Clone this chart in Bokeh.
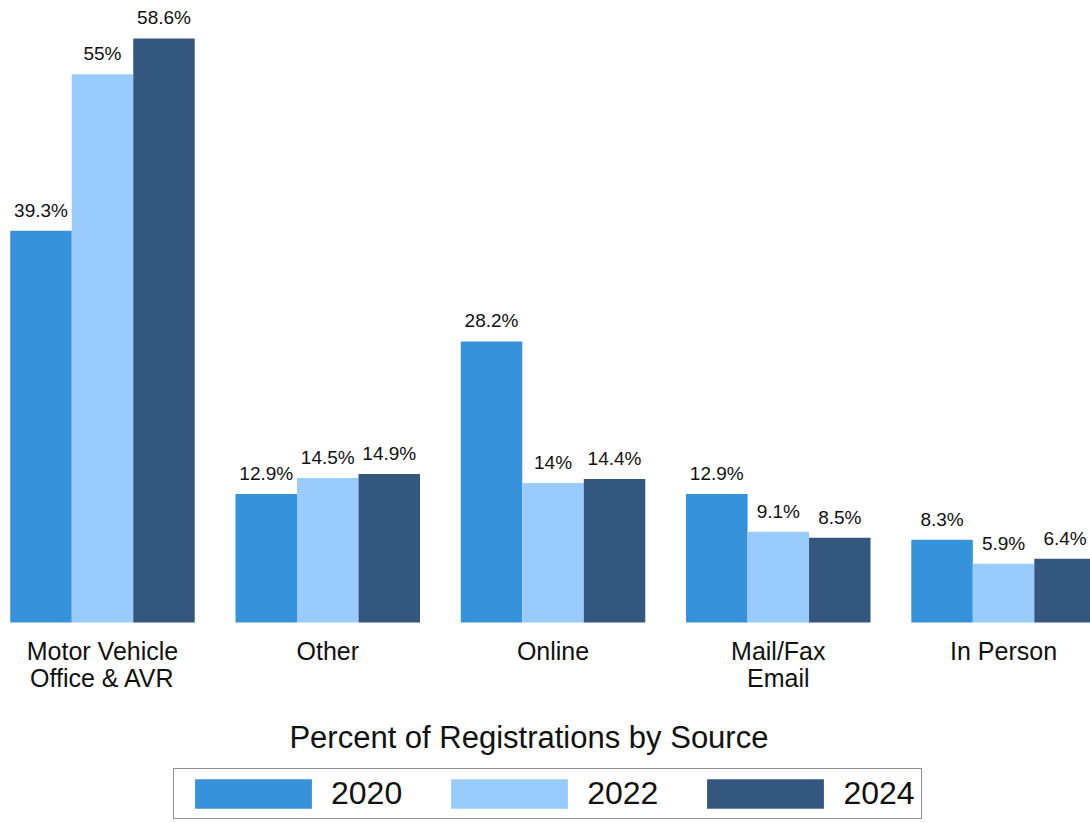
from bokeh.plotting import figure
from bokeh.models import ColumnDataSource, Range1d, Legend, LegendItem, Label
from bokeh.transform import dodge
from bokeh.core.properties import value
from bokeh.embed import file_html
from bokeh.resources import INLINE

# ---- data ----
categories = ["Motor Vehicle\nOffice & AVR", "Other", "Online", "Mail/Fax\nEmail", "In Person"]
years = ["2020", "2022", "2024"]
v2020 = [39.3, 12.9, 28.2, 12.9, 8.3]
v2022 = [55, 14.5, 14, 9.1, 5.9]
v2024 = [58.6, 14.9, 14.4, 8.5, 6.4]
title_text = "Percent of Registrations by Source"

colors = ["#3592DB", "#99CCFC", "#34577F"]
FONT = "Liberation Sans"

idx = list(range(len(categories)))
src = ColumnDataSource(dict(
    x=idx, cat=categories,
    v2020=v2020, v2022=v2022, v2024=v2024,
    l2020=[f"{v:g}%" for v in v2020],
    l2022=[f"{v:g}%" for v in v2022],
    l2024=[f"{v:g}%" for v in v2024],
))

p = figure(width=1090, height=823, output_backend="svg", toolbar_location=None,
           x_range=Range1d(-0.4528, 4.386), y_range=Range1d(-20.17, 62.41),
           min_border=0, min_border_left=0, min_border_right=0,
           min_border_top=0, min_border_bottom=0)
p.axis.visible = False
p.grid.visible = False
p.outline_line_color = None

bw = 0.273
offsets = [-bw, 0, bw]
renderers = []
for yr, col, off in zip(years, colors, offsets):
    r = p.vbar(x=dodge("x", off, range=p.x_range), top=f"v{yr}", width=bw, bottom=0,
               source=src, fill_color=col, line_color=None)
    renderers.append(r)
    p.text(x=dodge("x", off, range=p.x_range), y=f"v{yr}", text=f"l{yr}", source=src,
           text_align="center", text_baseline="bottom", y_offset=-10,
           text_font=value(FONT), text_font_size="19px", text_color="#111111")

# category labels below the baseline
p.text(x="x", y=0, text="cat", source=src, text_align="center", text_baseline="top",
       y_offset=15, text_font=value(FONT), text_font_size="25px", text_color="#111111",
       text_line_height=0.95)

# title below chart
p.add_layout(Label(x=1.893, y=-11.5, text=title_text, text_align="center",
                   text_baseline="middle", text_font=FONT, text_font_size="31px",
                   text_color="#111111"))

legend = Legend(items=[LegendItem(label=yr, renderers=[r]) for yr, r in zip(years, renderers)],
                orientation="horizontal", location=(173, 4),
                glyph_width=146, glyph_height=37, label_standoff=5, spacing=34,
                padding=6, margin=0,
                label_text_font=FONT, label_text_font_size="32px", label_text_color="#111111",
                border_line_color="#222222", border_line_width=1.5,
                background_fill_color="white", background_fill_alpha=1)
p.add_layout(legend)

open("out.html", "w").write(file_html(p, INLINE))
